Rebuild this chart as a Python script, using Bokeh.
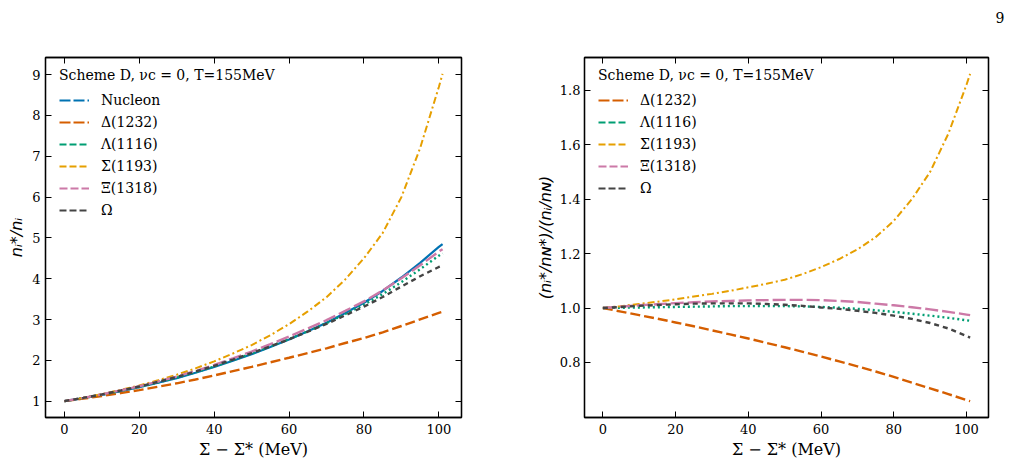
from bokeh.plotting import figure
from bokeh.layouts import row
from bokeh.models import LinearAxis, Legend, LegendItem, FixedTicker, Range1d, PrintfTickFormatter
from bokeh.embed import file_html
from bokeh.resources import INLINE

# ---------------- data ----------------
x_mev = [0, 5, 10, 15, 20, 25, 30, 35, 40, 45, 50, 55, 60, 65, 70, 75, 80, 85, 90, 95, 100, 101]

# left panel: n_i^* / n_i
nucleon = [1.0, 1.075, 1.155, 1.245, 1.34, 1.45, 1.565, 1.695, 1.835, 1.99, 2.15, 2.325,
           2.51, 2.71, 2.92, 3.16, 3.41, 3.70, 4.03, 4.39, 4.78, 4.85]
delta = [1.0, 1.061, 1.125, 1.196, 1.269, 1.353, 1.437, 1.531, 1.629, 1.735, 1.840, 1.951,
         2.063, 2.179, 2.295, 2.424, 2.547, 2.686, 2.841, 3.003, 3.164, 3.191]
lambda_ = [1.0, 1.076, 1.157, 1.249, 1.345, 1.457, 1.574, 1.707, 1.848, 2.004, 2.165, 2.339,
           2.520, 2.713, 2.911, 3.135, 3.362, 3.622, 3.917, 4.232, 4.565, 4.622]
sigma = [1.0, 1.083, 1.172, 1.274, 1.383, 1.511, 1.646, 1.802, 1.974, 2.167, 2.374, 2.616,
         2.887, 3.198, 3.548, 3.982, 4.501, 5.12, 6.0, 7.20, 8.70, 9.02]
xi = [1.0, 1.080, 1.167, 1.262, 1.364, 1.480, 1.603, 1.739, 1.886, 2.048, 2.215, 2.395,
      2.583, 2.780, 2.984, 3.211, 3.444, 3.711, 4.010, 4.329, 4.665, 4.724]
omega = [1.0, 1.079, 1.164, 1.259, 1.359, 1.473, 1.592, 1.724, 1.866, 2.020, 2.176, 2.344,
         2.515, 2.702, 2.891, 3.103, 3.315, 3.552, 3.808, 4.061, 4.288, 4.321]

# right panel: (n_i^*/n_N^*)/(n_i/n_N)
r_delta = [1.0, 0.987, 0.974, 0.961, 0.947, 0.933, 0.918, 0.903, 0.888, 0.872, 0.856, 0.839,
           0.822, 0.804, 0.786, 0.767, 0.747, 0.726, 0.705, 0.684, 0.662, 0.658]
r_lambda = [1.0, 1.001, 1.002, 1.003, 1.004, 1.005, 1.006, 1.007, 1.007, 1.007, 1.007, 1.006,
            1.004, 1.001, 0.997, 0.992, 0.986, 0.979, 0.972, 0.964, 0.955, 0.953]
r_sigma = [1.0, 1.007, 1.015, 1.023, 1.032, 1.042, 1.052, 1.063, 1.076, 1.089, 1.104, 1.125,
           1.15, 1.18, 1.215, 1.26, 1.32, 1.40, 1.50, 1.64, 1.82, 1.86]
r_xi = [1.0, 1.005, 1.01, 1.014, 1.018, 1.021, 1.024, 1.026, 1.028, 1.029, 1.03, 1.03,
        1.029, 1.026, 1.022, 1.016, 1.01, 1.003, 0.995, 0.986, 0.976, 0.974]
r_omega = [1.0, 1.004, 1.008, 1.011, 1.014, 1.016, 1.017, 1.017, 1.017, 1.015, 1.012, 1.008,
           1.002, 0.997, 0.99, 0.982, 0.972, 0.96, 0.945, 0.925, 0.897, 0.891]

x_ticks = [0, 20, 40, 60, 80, 100]
y_ticks_left = [1, 2, 3, 4, 5, 6, 7, 8, 9]
y_ticks_right = [0.8, 1.0, 1.2, 1.4, 1.6, 1.8]

labels_left = ["Nucleon", "Δ(1232)", "Λ(1116)", "Σ(1193)", "Ξ(1318)", "Ω"]
labels_right = ["Δ(1232)", "Λ(1116)", "Σ(1193)", "Ξ(1318)", "Ω"]
legend_title = "Scheme D, νc = 0, T=155MeV"
page_number = "9"

# ---------------- styles ----------------
SERIF = "DejaVu Serif"
C_N, C_D, C_L, C_S, C_X, C_O = "#0072B2", "#D55E00", "#009E73", "#E69F00", "#CC79A7", "#444444"

# (color, width, dash in plot, dash in legend)
ST = {
    "Nucleon": (C_N, 2.2, "solid", "11 3"),
    "Δ(1232)": (C_D, 2.4, "10 4", "11 3"),
    "Λ(1116)": (C_L, 2.4, "2 3", "7 3"),
    "Σ(1193)": (C_S, 2.0, "7 3 2 3", "7 3"),
    "Ξ(1318)": (C_X, 2.4, "13 4", "8 3"),
    "Ω": (C_O, 2.4, "5 4", "7 3"),
}


def style_fig(p, yticks):
    p.xgrid.visible = False
    p.ygrid.visible = False
    p.outline_line_color = "black"
    p.outline_line_width = 1.3
    p.background_fill_color = "white"
    p.border_fill_color = "white"
    p.xaxis.ticker = FixedTicker(ticks=x_ticks)
    p.yaxis.ticker = FixedTicker(ticks=yticks)
    for ax in list(p.xaxis) + list(p.yaxis):
        ax.major_tick_in = 6
        ax.major_tick_out = 0
        ax.minor_tick_in = 0
        ax.minor_tick_out = 0
        ax.major_tick_line_color = "black"
        ax.axis_line_color = "black"
        ax.axis_line_width = 1.3
        ax.major_label_text_font = SERIF
        ax.major_label_text_font_size = "13px"
        ax.major_label_text_color = "black"
        ax.axis_label_text_color = "black"
        ax.axis_label_text_font_style = "normal"
    p.xaxis.major_label_standoff = 6
    p.xaxis.axis_label = "Σ − Σ* (MeV)"
    p.xaxis.axis_label_text_font = SERIF
    p.xaxis.axis_label_text_font_size = "16px"
    p.xaxis.axis_label_standoff = 3
    p.yaxis.axis_label_text_font = "DejaVu Sans"
    p.yaxis.axis_label_text_font_size = "16px"
    p.yaxis.axis_label_text_font_style = "italic"
    # mirrored ticks on top and right (no labels)
    top = LinearAxis(ticker=FixedTicker(ticks=x_ticks),
                     major_label_overrides={t: "" for t in x_ticks})
    right = LinearAxis(ticker=FixedTicker(ticks=yticks),
                       major_label_overrides={t: "" for t in yticks})
    for ax in (top, right):
        ax.major_tick_in = 6
        ax.major_tick_out = 0
        ax.minor_tick_in = 0
        ax.minor_tick_out = 0
        ax.axis_line_color = "black"
        ax.axis_line_width = 1.3
        ax.major_label_standoff = 0
        ax.major_label_text_font_size = "1px"
    p.add_layout(top, "above")
    p.add_layout(right, "right")


def make_legend(p, labels, vy):
    items = []
    for lab in labels:
        c, w, _, ld = ST[lab]
        # legend handle only: a segment far outside the visible ranges
        r = p.line([-400, -300], [-400, -400], line_color=c, line_width=2, line_dash=ld)
        items.append(LegendItem(label=lab, renderers=[r]))
    lg = Legend(items=items, location=(14, vy), title=legend_title,
                margin=0, padding=0, spacing=2,
                glyph_width=30, glyph_height=20, label_height=20, label_standoff=12,
                label_text_font=SERIF, label_text_font_size="14px", label_text_color="black",
                title_text_font=SERIF, title_text_font_size="14px", title_text_color="black",
                title_text_font_style="normal", title_standoff=7,
                border_line_color=None, background_fill_alpha=0)
    p.add_layout(lg)


# ---------------- left panel ----------------
p1 = figure(width=480, height=464, output_backend="svg", toolbar_location=None,
            x_range=Range1d(-5.05, 106.05), y_range=Range1d(0.599, 9.421),
            min_border_left=45, min_border_right=19, min_border_top=57, min_border_bottom=47)
style_fig(p1, y_ticks_left)
p1.yaxis[0].major_label_standoff = 5
p1.yaxis[0].axis_label = "nᵢ*/nᵢ"
p1.yaxis[0].axis_label_standoff = 3

for lab, ys in zip(labels_left, [nucleon, delta, lambda_, sigma, xi, omega]):
    c, w, d, _ = ST[lab]
    p1.line(x_mev, ys, line_color=c, line_width=w, line_dash=d)
make_legend(p1, labels_left, 197)

# ---------------- right panel ----------------
p2 = figure(width=531, height=464, output_backend="svg", toolbar_location=None,
            x_range=Range1d(-5.05, 106.05), y_range=Range1d(0.598, 1.920),
            min_border_left=104, min_border_right=23, min_border_top=57, min_border_bottom=47)
style_fig(p2, y_ticks_right)
p2.yaxis[0].formatter = PrintfTickFormatter(format="%.1f")
p2.yaxis[0].major_label_standoff = 4
p2.yaxis[0].axis_label = "(nᵢ*/nɴ*)/(nᵢ/nɴ)"
p2.yaxis[0].axis_label_standoff = 2

for lab, ys in zip(labels_right, [r_delta, r_lambda, r_sigma, r_xi, r_omega]):
    c, w, d, _ = ST[lab]
    p2.line(x_mev, ys, line_color=c, line_width=w, line_dash=d)
make_legend(p2, labels_right, 219)

# page number in the top-right corner, as a title above the right panel
p2.title.text = page_number + "\n"
p2.title.align = "right"
p2.title.vertical_align = "top"
p2.title.offset = -16
p2.title.standoff = 0
p2.title.text_font = SERIF
p2.title.text_font_size = "14px"
p2.title.text_font_style = "normal"
p2.title.text_line_height = 1.9
p2.title.text_color = "black"

layout = row(p1, p2, spacing=0)
open("out.html", "w").write(file_html(layout, INLINE))
